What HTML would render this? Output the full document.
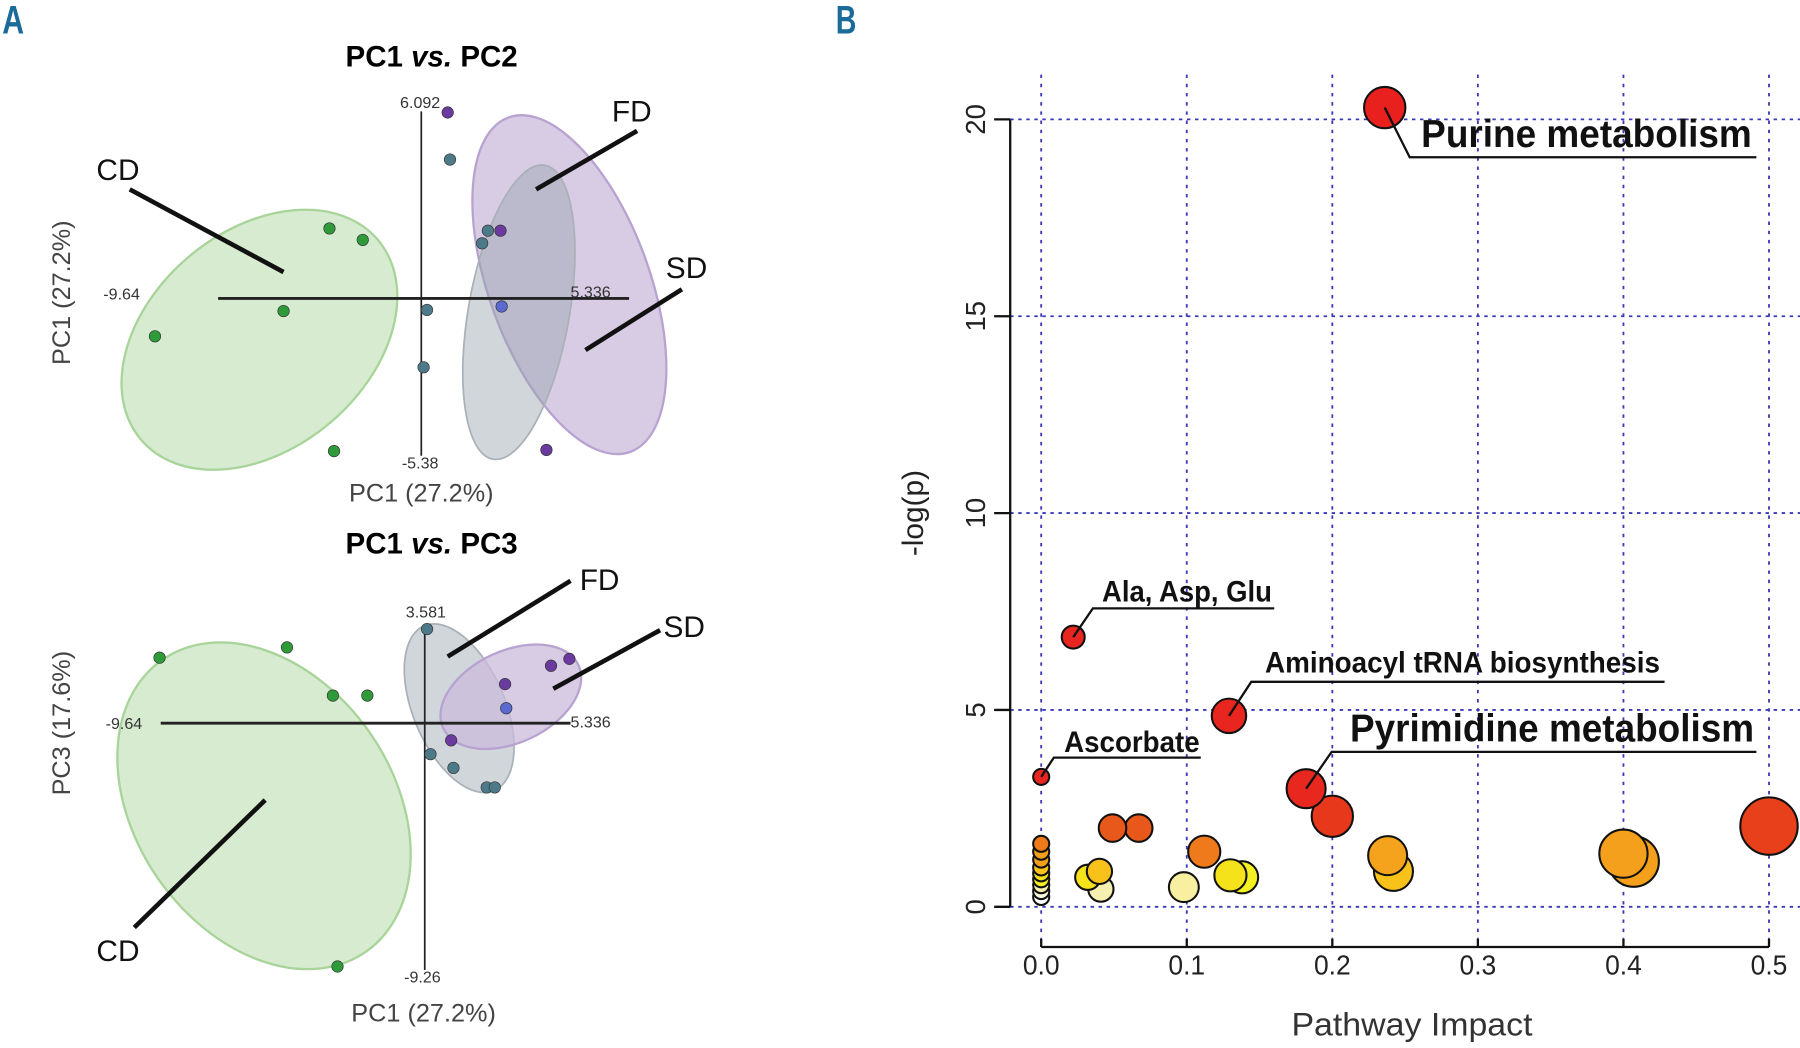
<!DOCTYPE html>
<html><head><meta charset="utf-8"><style>
html,body{margin:0;padding:0;background:#fff;}
svg{display:block;font-family:"Liberation Sans",sans-serif;}
</style></head><body>
<svg id="fig" width="1800" height="1048" viewBox="0 0 1568 913" preserveAspectRatio="none">
<text transform="translate(2 29) scale(1 1.35)" font-size="26" font-weight="bold" fill="#1a6a9a" textLength="19" lengthAdjust="spacingAndGlyphs">A</text>
<text transform="translate(728 29) scale(1 1.35)" font-size="26" font-weight="bold" fill="#1a6a9a" textLength="18" lengthAdjust="spacingAndGlyphs">B</text>

<g>
<text x="376" y="58" font-size="26" font-weight="bold" text-anchor="middle" textLength="150" lengthAdjust="spacingAndGlyphs">PC1 <tspan font-style="italic">vs.</tspan> PC2</text>
<ellipse cx="226" cy="296" rx="135" ry="95" transform="rotate(-40 226 296)" fill="#d6ebcf" stroke="#a8d49a" stroke-width="2"/>
<ellipse cx="496" cy="248" rx="155" ry="70" transform="rotate(70 496 248)" fill="#cbbbdc" fill-opacity="0.75" stroke="#b7a2d0" stroke-width="2"/>
<ellipse cx="452" cy="272" rx="130" ry="44" transform="rotate(-80 452 272)" fill="#9aa3ae" fill-opacity="0.45" stroke="#a9b0b8" stroke-width="1.5"/>
<line x1="367" y1="97" x2="367" y2="397" stroke="#222" stroke-width="1.5"/>
<line x1="190" y1="260" x2="548" y2="260" stroke="#222" stroke-width="2.5"/>
<g font-size="14" fill="#333">
<text x="366" y="94" text-anchor="middle">6.092</text>
<text x="90" y="261">-9.64</text>
<text x="497" y="259">5.336</text>
<text x="366" y="408" text-anchor="middle">-5.38</text>
</g>
<text x="367" y="437" font-size="22" fill="#444" text-anchor="middle">PC1 (27.2%)</text>
<text transform="translate(61 255) rotate(-90)" font-size="22" fill="#444" text-anchor="middle">PC1 (27.2%)</text>
<g stroke="#111" stroke-width="4">
<line x1="113" y1="165" x2="247" y2="237"/><line x1="555" y1="114" x2="467" y2="165"/><line x1="594" y1="252" x2="510" y2="305"/>
</g>
<g font-size="26" fill="#111">
<text x="84" y="157">CD</text><text x="533" y="106">FD</text><text x="580" y="242">SD</text>
</g>
<g id="top-pts"></g>
</g>

<g>
<text x="376" y="482" font-size="26" font-weight="bold" text-anchor="middle" textLength="150" lengthAdjust="spacingAndGlyphs">PC1 <tspan font-style="italic">vs.</tspan> PC3</text>
<ellipse cx="230" cy="702" rx="155" ry="112" transform="rotate(55 230 702)" fill="#d6ebcf" stroke="#a8d49a" stroke-width="2"/>
<ellipse cx="400" cy="617" rx="78" ry="40" transform="rotate(67 400 617)" fill="#9aa3ae" fill-opacity="0.45" stroke="#a9b0b8" stroke-width="1.5"/>
<ellipse cx="445" cy="607" rx="65" ry="40" transform="rotate(-25 445 607)" fill="#cbbbdc" fill-opacity="0.75" stroke="#b7a2d0" stroke-width="2"/>
<line x1="370" y1="545" x2="370" y2="845" stroke="#222" stroke-width="1.5"/>
<line x1="140" y1="630" x2="497" y2="630" stroke="#222" stroke-width="2.5"/>
<g font-size="14" fill="#333">
<text x="371" y="538" text-anchor="middle">3.581</text>
<text x="92" y="635">-9.64</text>
<text x="497" y="634">5.336</text>
<text x="368" y="856" text-anchor="middle">-9.26</text>
</g>
<text x="369" y="890" font-size="22" fill="#444" text-anchor="middle">PC1 (27.2%)</text>
<text transform="translate(61 630) rotate(-90)" font-size="22" fill="#444" text-anchor="middle">PC3 (17.6%)</text>
<g stroke="#111" stroke-width="4">
<line x1="497" y1="506" x2="390" y2="572"/><line x1="575" y1="549" x2="482" y2="600"/><line x1="117" y1="808" x2="231" y2="697"/>
</g>
<g font-size="26" fill="#111">
<text x="505" y="514">FD</text><text x="578" y="555">SD</text><text x="84" y="837">CD</text>
</g>
<g id="bot-pts"></g>
</g>

<g id="panelB"></g>
</svg>
<script>
const NS='http://www.w3.org/2000/svg';
function mk(tag,attrs,parent){const e=document.createElementNS(NS,tag);for(const k in attrs)e.setAttribute(k,attrs[k]);parent.appendChild(e);return e;}

// PCA scores (screen-space)
const topX=[390,436,476,437,392,425,420,372,369,287,316,247,135,291];
const topY=[98,201,392,267,139,201,212,270,320,199,209,271,293,393];
const topG=['p','p','p','b','t','t','t','t','t','g','g','g','g','g'];
const botX=[372,375,395,424,431,480,496,440,393,441,139,250,290,320,294];
const botY=[548,657,669,686,686,580,574,596,645,617,573,564,606,606,842];
const botG=['t','t','t','t','t','p','p','p','p','b','g','g','g','g','g'];
const gcol={p:'#6a3a9e',t:'#4d7a88',g:'#2e9a3a',b:'#5a6ad0'};
function pts(xs,ys,gs,id){const g=document.getElementById(id);
 for(let i=0;i<xs.length;i++){const c=mk('circle',{cx:xs[i],cy:ys[i],r:5,fill:gcol[gs[i]],stroke:'#333','stroke-width':0.6},g);
 
 }}
pts(topX,topY,topG,'top-pts');pts(botX,botY,botG,'bot-pts');

// Pathway chart data
const impact=[0.236,0.022,0.129,0.0,0.182,0.2,0.5,0.049,0.067,0.112,0.238,0.242,0.4,0.407,0.04,0.032,0.041,0.098,0.13,0.138,0,0,0,0,0,0,0,0,0];
const logp=[20.3,6.85,4.85,3.3,3.0,2.3,2.05,2.0,2.0,1.4,1.3,0.9,1.35,1.15,0.9,0.75,0.45,0.5,0.8,0.75,1.6,1.4,1.2,1.0,0.85,0.7,0.55,0.4,0.25];
const radius=[18,10,15,7,17,18,25,12,12,14,17,17,21,22,11,11,11,13,14,14,7,7,7,7,7,7,7,7,7];
const colors=['#e8211f','#e8251f','#e8251f','#e8251f','#e8281e','#e8381c','#e8401a','#e8581a','#e8581a','#ee7a1c','#f5a31c','#f8c21a','#f5a01c','#f5a01c','#f8c21a','#f5e21a','#f5f0b0','#f8f0a0','#f5e21a','#f5f020','#ee7a1c','#f5a01c','#f5a01c','#f8c21a','#f5e21a','#f5f020','#f5f0b0','#fafae0','#ffffff'];
const xTicks=[0,0.1,0.2,0.3,0.4,0.5];
const xTickLabels=['0.0','0.1','0.2','0.3','0.4','0.5'];
const yTicks=[0,5,10,15,20];
const yTickLabels=['0','5','10','15','20'];
const annLabels=['Purine metabolism','Ala, Asp, Glu','Aminoacyl tRNA biosynthesis','Ascorbate','Pyrimidine metabolism'];
const annIndex=[0,1,2,3,4];

const X=v=>907+v*(1541-907)/0.5;
const Y=v=>790-v*(790-104)/20;
const B=document.getElementById('panelB');
xTicks.forEach(t=>{const l=mk('line',{x1:X(t),x2:X(t),y1:65,y2:825,stroke:'#3a3ab8','stroke-width':1.6,'stroke-dasharray':'3 5'},B);
 
 });
yTicks.forEach(t=>{const l=mk('line',{x1:880,x2:1568,y1:Y(t),y2:Y(t),stroke:'#3a3ab8','stroke-width':1.6,'stroke-dasharray':'3 4'},B);
 
 });
const ya=mk('line',{x1:880,x2:880,y1:Y(yTicks[yTicks.length-1]),y2:Y(yTicks[0]),stroke:'#111','stroke-width':2},B);


yTicks.forEach((t,i)=>{mk('line',{x1:866,x2:880,y1:Y(t),y2:Y(t),stroke:'#111','stroke-width':2},B);
 const tx=mk('text',{transform:`translate(858 ${Y(t)}) rotate(-90)`,'font-size':24,'text-anchor':'middle',fill:'#222'},B);tx.textContent=yTickLabels[i];
 
 });
const xa=mk('line',{x1:X(xTicks[0]),x2:X(xTicks[xTicks.length-1]),y1:825,y2:825,stroke:'#111','stroke-width':2},B);


xTicks.forEach((t,i)=>{mk('line',{x1:X(t),x2:X(t),y1:818,y2:825,stroke:'#111','stroke-width':2},B);
 const tx=mk('text',{x:X(t),y:849,'font-size':24,'text-anchor':'middle',fill:'#222',textLength:32,lengthAdjust:'spacingAndGlyphs'},B);tx.textContent=xTickLabels[i];
 
 });
const xt=mk('text',{x:1230,y:902,'font-size':28,'text-anchor':'middle',fill:'#333',textLength:210,lengthAdjust:'spacingAndGlyphs'},B);xt.textContent='Pathway Impact';


const yt=mk('text',{transform:'translate(804 447) rotate(-90)','font-size':26,'text-anchor':'middle',fill:'#222'},B);yt.textContent='-log(p)';


const order=impact.map((_,i)=>i).reverse();
order.forEach(i=>{const c=mk('circle',{cx:X(impact[i]),cy:Y(logp[i]),r:radius[i],fill:colors[i],stroke:'#111','stroke-width':1.8},B);
 
 });
const annGeom=[[1238,128,34,288,1228,137,1530],[960,524,26,148,952,530,1110],[1102,586,26,344,1090,594,1450],[927,655,26,118,918,660,1046],[1176,646,34,352,1160,655,1530]];
annIndex.forEach((idx,k)=>{const g=annGeom[k];const px=X(impact[idx]),py=Y(logp[idx]);
 const p=mk('polyline',{points:`${px},${py} ${g[4]},${g[5]} ${g[6]},${g[5]}`,fill:'none',stroke:'#111','stroke-width':2},B);
 
 
 const t=mk('text',{x:g[0],y:g[1],'font-size':g[2],'font-weight':'bold',fill:'#111',textLength:g[3],lengthAdjust:'spacingAndGlyphs'},B);t.textContent=annLabels[k];
 
 });
</script>
</body></html>
